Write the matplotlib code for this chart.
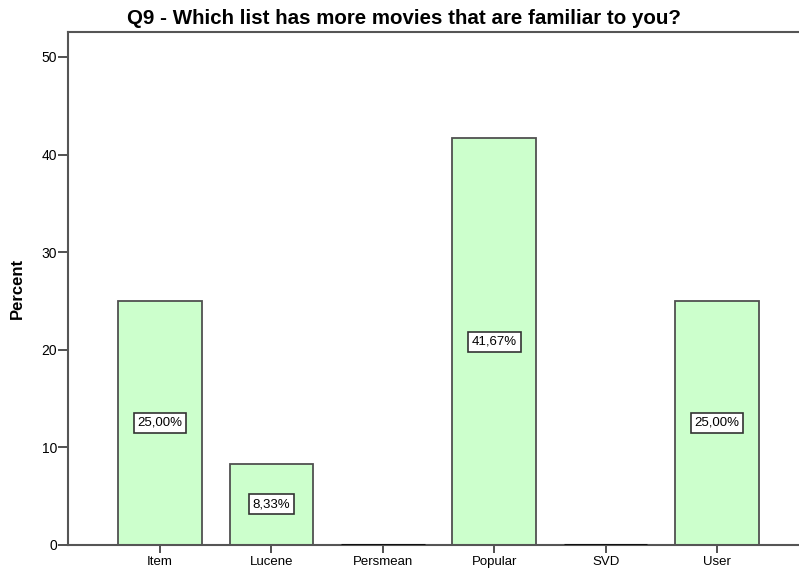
import matplotlib
matplotlib.use("Agg")
import matplotlib.pyplot as plt

categories = ["Item", "Lucene", "Persmean", "Popular", "SVD", "User"]
percent = [25.00, 8.33, 0.0, 41.67, 0.0, 25.00]
yticks = [0, 10, 20, 30, 40, 50]

plt.rcParams['font.family'] = ['Liberation Sans', 'DejaVu Sans']

fig = plt.figure(figsize=(7.99, 5.74), dpi=100)
ax = fig.add_axes([68/799, 29/574, 1 - 68/799, (545-32)/574])

x = list(range(len(categories)))
for xi, v in zip(x, percent):
    if v > 0:
        ax.bar(xi, v, width=0.75, color="#ccffcc", edgecolor="#505050", linewidth=1.3, zorder=2)
        ax.text(xi, v/2, f"{v:.2f}".replace(".", ",") + "%", ha="center", va="center", fontsize=9.5,
                bbox=dict(boxstyle="square,pad=0.3", facecolor="white", edgecolor="#333333", linewidth=1.2), zorder=3)
    else:
        ax.plot([xi-0.375, xi+0.375], [0, 0], color="#111111", linewidth=2.2, zorder=3, solid_capstyle="butt")

ax.set_xlim(-0.826, 5.736)
ax.set_ylim(0, 52.56)
ax.set_yticks(yticks)
ax.set_xticks(x)
ax.set_xticklabels(categories, fontsize=9.5)
ax.tick_params(axis='y', labelsize=10, length=7, width=1.2, color="#333333", pad=1)
ax.tick_params(axis='x', length=6, width=1.2, color="#333333", pad=2)
for s in ["left", "bottom", "top"]:
    ax.spines[s].set_color("#555555")
    ax.spines[s].set_linewidth(1.5)
ax.spines["right"].set_visible(False)
ax.set_ylabel("Percent", fontsize=12, fontweight="bold", labelpad=12)
fig.text(0.505, 0.968, "Q9 - Which list has more movies that are familiar to you?", ha="center", va="center",
         fontsize=14.8, fontweight="bold")

fig.savefig("out.png", dpi=100)
